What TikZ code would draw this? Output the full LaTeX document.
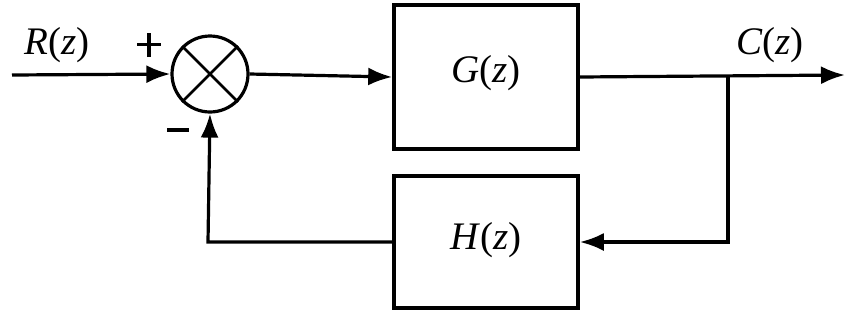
\documentclass[tikz,border=0pt]{standalone}
\usepackage{fontspec}
\setmainfont{Liberation Serif}
\usetikzlibrary{arrows.meta}
\begin{document}
\begin{tikzpicture}[x=1pt,y=-1pt,
  wire/.style={line width=3.2pt},
  arr/.style={wire,-{Latex[length=24pt,width=18pt]}},
  blockbox/.style={draw,line width=3.6pt,minimum width=184pt,inner sep=0pt},
  lbl/.style={font=\fontsize{39}{44}\selectfont,inner sep=0pt},
  sgn/.style={font=\fontsize{40}{44}\selectfont,inner sep=0pt}]
\useasboundingbox (0,0) rectangle (846,325);
\node[draw,circle,line width=3.2pt,minimum size=76pt,inner sep=0pt] (sum) at (210,74) {};
\draw[line width=2.8pt] (sum.north west) -- (sum.south east) (sum.north east) -- (sum.south west);
\node[blockbox,minimum height=144pt] (G) at (486,77) {};
\node[lbl] at ([yshift=4pt]G.center) {\textit{G}(\textit{z})};
\node[blockbox,minimum height=132pt] (H) at (486,242) {};
\node[lbl] at ([yshift=2pt]H.center) {\textit{H}(\textit{z})};
\coordinate (in) at (12,75);
\coordinate (out) at (845,75);
\coordinate (br) at (728,75);
\coordinate (brd) at (728,242);
\coordinate (fl) at (208,242);
\node[lbl] (R) at (57,45) {\textit{R}(\textit{z})};
\node[lbl] (C) at (770,45) {\textit{C}(\textit{z})};
\node[sgn] (plus) at (149,45) {\rule[-10pt]{0pt}{1pt}\makebox[0pt]{\rule[-11pt]{3.4pt}{24pt}}\makebox[0pt]{\rule[0pt]{24pt}{3.4pt}}};
\node[sgn] (minus) at (178,130) {\rule{22pt}{3.4pt}};
\draw[arr] (in) -- (sum.west);
\draw[arr] (sum.east) -- (G.west);
\draw[arr] (G.east) -- (out);
\draw[arr] (br) -- (brd) -- (H.east);
\draw[arr] (H.west) -- (fl) -- (sum.south);
\end{tikzpicture}
\end{document}
